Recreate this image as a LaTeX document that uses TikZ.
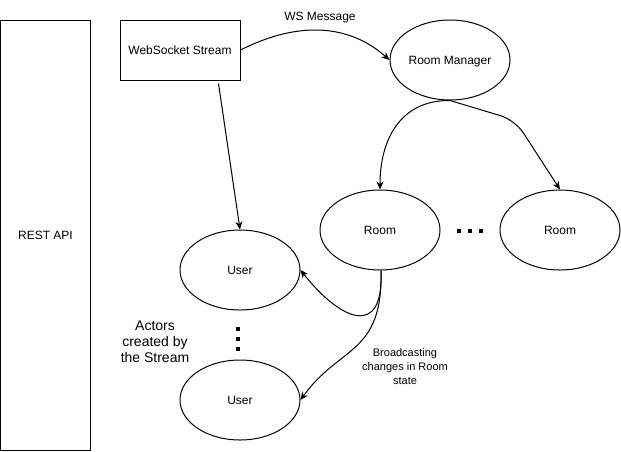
\documentclass[tikz,border=0pt]{standalone}
\usepackage{fontspec}
\setmainfont{Liberation Sans}
\usetikzlibrary{shapes.geometric,arrows.meta}
\begin{document}
\begin{tikzpicture}[x=1pt,y=-1pt,
  every node/.style={font=\fontsize{12}{14}\selectfont, inner sep=0pt},
  box/.style={draw, line width=1pt, rectangle, text depth=0pt},
  actor/.style={draw, line width=1pt, ellipse, minimum width=120pt, minimum height=80pt, text depth=0pt},
  dotsq/.style={fill=black, rectangle, minimum size=4pt},
  conn/.style={line width=1pt, -{Stealth[length=8pt,width=7pt,inset=2.5pt]}},
  lbl/.style={align=center}]
\useasboundingbox (0,0) rectangle (621,451);
% nodes
\node[box, minimum width=90pt, minimum height=430pt] (rest) at (45.5,235) {REST API};
\node[box, minimum width=120pt, minimum height=60pt] (ws) at (180,50) {WebSocket Stream};
\node[actor] (rm) at (450,60) {Room Manager};
\node[actor] (r1) at (380,230) {Room};
\node[actor] (r2) at (560,230) {Room};
\node[actor] (u1) at (240,270) {User};
\node[actor] (u2) at (240,400) {User};
% dots
\node[dotsq] (h1) at (459,231) {};
\node[dotsq] (h2) at (470,231) {};
\node[dotsq] (h3) at (481,231) {};
\node[dotsq] (v1) at (238,329) {};
\node[dotsq] (v2) at (238,339) {};
\node[dotsq] (v3) at (238,349) {};
% labels
\node[lbl, text depth=0pt] (wsmsg) at (320,16) {WS Message};
\node[lbl, font=\fontsize{14}{16}\selectfont] (actors) at (155,342) {Actors\\created by\\the Stream};
\node[lbl, font=\fontsize{11}{14}\selectfont] (bc) at (405,367) {Broadcasting\\changes in Room\\state};
% connectors
\draw[conn] (ws.east) .. controls (300,20) and (350,25) .. (rm.west);
\draw[conn] ([xshift=-22pt,yshift=-3pt]ws.south east) -- (u1.north);
\draw[conn] (rm.south) .. controls (400,100) and (380,140) .. (r1.north);
\draw[conn, rounded corners=15pt] (rm.south) -- (515,120) -- (r2.north);
\draw[conn] ([xshift=1pt]r1.south) .. controls (384,340) and (340,320) .. (u1.east);
\draw[conn] ([xshift=1pt]r1.south) .. controls (383,355) and (340,345) .. (u2.east);
\end{tikzpicture}
\end{document}
